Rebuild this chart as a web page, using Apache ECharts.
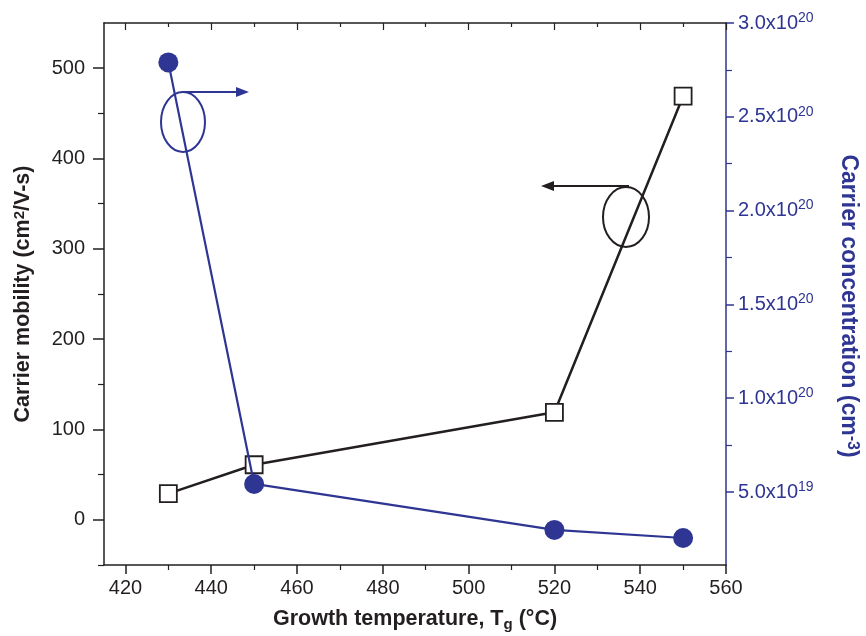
<!DOCTYPE html>
<html>
<head>
<meta charset="utf-8">
<script src="https://cdn.jsdelivr.net/npm/echarts@6/dist/echarts.min.js"></script>
<style>
  html, body { margin: 0; padding: 0; background: #fff; }
  #chart { width: 866px; height: 636px; }
</style>
</head>
<body>
<div id="chart"></div>
<script>
// growth temperature (°C)
const temps = [430, 450, 520, 550];
// carrier mobility (cm2/V-s)
const mobility = [29, 61, 119, 469];
// carrier concentration, in units of 1e19 cm-3
const concentration = [27.9, 5.43, 2.98, 2.55];

const xMajor = [420, 440, 460, 480, 500, 520, 540, 560];
const xMinor = [430, 450, 470, 490, 510, 530, 550];
const yMajor = [0, 100, 200, 300, 400, 500];
const yMinor = [-50, 50, 150, 250, 350, 450];
const rMajor = [5, 10, 15, 20, 25, 30];
const rMinor = [7.5, 12.5, 17.5, 22.5, 27.5];
const rLabels = ["5.0x10|19", "1.0x10|20", "1.5x10|20", "2.0x10|20", "2.5x10|20", "3.0x10|20"];

const black = "#231f20";
const blue = "#2e3592";
const font = "Liberation Sans, Arial, sans-serif";

const chart = echarts.init(document.getElementById("chart"));

const baseX = { type: "value", min: 415, max: 560, splitLine: { show: false } };
const baseL = { type: "value", min: -50, max: 550, splitLine: { show: false } };
const baseR = { type: "value", min: 1.11, max: 30, splitLine: { show: false } };

const option = {
  animation: false,
  grid: { left: 104, right: 140, top: 23, bottom: 71, outerBoundsMode: "none" },
  xAxis: [
    {
      ...baseX,
      position: "bottom",
      axisLine: { onZero: false, lineStyle: { color: black, width: 1.5 } },
      axisTick: { customValues: xMajor, length: 9, lineStyle: { color: black, width: 1.5 } },
      axisLabel: { customValues: xMajor, margin: 13, fontSize: 20, color: black, fontFamily: font },
      name: "Growth temperature, T{sub|g} (°C)",
      nameLocation: "middle",
      nameGap: 42,
      nameTextStyle: {
        fontSize: 21.5, fontWeight: "bold", color: black, fontFamily: font,
        rich: { sub: { fontSize: 15, fontWeight: "bold", verticalAlign: "bottom", fontFamily: font, padding: [10, 0, 0, 0] } },
      },
    },
    {
      ...baseX,
      position: "bottom",
      axisLine: { show: false, onZero: false },
      axisTick: { customValues: xMinor, length: 5, lineStyle: { color: black, width: 1.2 } },
      axisLabel: { show: false },
    },
    {
      ...baseX,
      position: "top",
      axisLine: { onZero: false, lineStyle: { color: black, width: 1.5 } },
      axisTick: { customValues: xMajor, inside: true, length: 7, lineStyle: { color: black, width: 1.2 } },
      axisLabel: { show: false },
    },
    {
      ...baseX,
      position: "top",
      axisLine: { show: false, onZero: false },
      axisTick: { customValues: xMinor, inside: true, length: 4, lineStyle: { color: black, width: 1.2 } },
      axisLabel: { show: false },
    },
  ],
  yAxis: [
    {
      ...baseL,
      position: "left",
      axisLine: { show: true, onZero: false, lineStyle: { color: black, width: 1.5 } },
      axisTick: { show: true, customValues: yMajor, length: 11, lineStyle: { color: black, width: 1.5 } },
      axisLabel: { customValues: yMajor, margin: 19, fontSize: 20, color: black, fontFamily: font },
      name: "Carrier mobility (cm{sup|2}/V-s)",
      nameLocation: "middle",
      nameGap: 69,
      nameTextStyle: {
        fontSize: 21.5, fontWeight: "bold", color: black, fontFamily: font,
        rich: { sup: { fontSize: 15, fontWeight: "bold", verticalAlign: "top", fontFamily: font, padding: [0, 0, 8, 0] } },
      },
    },
    {
      ...baseL,
      position: "left",
      axisLine: { show: false, onZero: false },
      axisTick: { show: true, customValues: yMinor, length: 6, lineStyle: { color: black, width: 1.2 } },
      axisLabel: { show: false },
    },
    {
      ...baseR,
      position: "right",
      axisLine: { show: true, onZero: false, lineStyle: { color: blue, width: 1.5 } },
      axisTick: { show: true, customValues: rMajor, length: 8, lineStyle: { color: blue, width: 1.5 } },
      axisLabel: {
        customValues: rMajor,
        margin: 12,
        color: blue,
        fontFamily: font,
        formatter: (v) => {
          const s = rLabels[rMajor.indexOf(v)].split("|");
          return "{n|" + s[0] + "}{s|" + s[1] + "}";
        },
        rich: {
          n: { fontSize: 20, color: blue, fontFamily: font, lineHeight: 24 },
          s: { fontSize: 14, color: blue, fontFamily: font, verticalAlign: "top", lineHeight: 24, padding: [0, 0, 12, 0] },
        },
      },
      name: "Carrier concentration (cm{sup|-3})",
      nameLocation: "middle",
      nameGap: 110,
      nameRotate: -90,
      nameTextStyle: {
        fontSize: 23, fontWeight: "bold", color: blue, fontFamily: font,
        padding: [0, 0, 0, 24],
        rich: { sup: { fontSize: 16, fontWeight: "bold", color: blue, verticalAlign: "top", fontFamily: font, padding: [0, 0, 8, 0] } },
      },
    },
    {
      ...baseR,
      position: "right",
      axisLine: { show: false, onZero: false },
      axisTick: { show: true, customValues: rMinor, length: 6, lineStyle: { color: blue, width: 1.2 } },
      axisLabel: { show: false },
    },
  ],
  series: [
    {
      name: "mobility",
      type: "line",
      xAxisIndex: 0,
      yAxisIndex: 0,
      data: temps.map((t, i) => [t, mobility[i]]),
      symbol: "rect",
      symbolSize: 17,
      lineStyle: { color: black, width: 2.5 },
      itemStyle: { color: "#fff", borderColor: black, borderWidth: 1.8 },
      z: 2,
    },
    {
      name: "concentration",
      type: "line",
      xAxisIndex: 0,
      yAxisIndex: 2,
      data: temps.map((t, i) => [t, concentration[i]]),
      symbol: "circle",
      symbolSize: 20,
      lineStyle: { color: blue, width: 2.2 },
      itemStyle: { color: blue, borderWidth: 0 },
      z: 3,
    },
  ],
  graphic: [
    // blue ellipse + arrow (points to right axis)
    { type: "ellipse", shape: { cx: 183, cy: 122, rx: 22, ry: 30 }, style: { fill: "none", stroke: blue, lineWidth: 2 }, z: 10 },
    { type: "line", shape: { x1: 182, y1: 92, x2: 238, y2: 92 }, style: { stroke: blue, lineWidth: 2 }, z: 10 },
    { type: "polygon", shape: { points: [[249, 92], [236, 87], [236, 97]] }, style: { fill: blue }, z: 10 },
    // black ellipse + arrow (points to left axis)
    { type: "ellipse", shape: { cx: 626, cy: 217, rx: 23, ry: 30 }, style: { fill: "none", stroke: black, lineWidth: 2 }, z: 10 },
    { type: "line", shape: { x1: 629, y1: 186, x2: 552, y2: 186 }, style: { stroke: black, lineWidth: 2 }, z: 10 },
    { type: "polygon", shape: { points: [[541, 186], [554, 181], [554, 191]] }, style: { fill: black }, z: 10 },
  ],
};

chart.setOption(option);
</script>
</body>
</html>
